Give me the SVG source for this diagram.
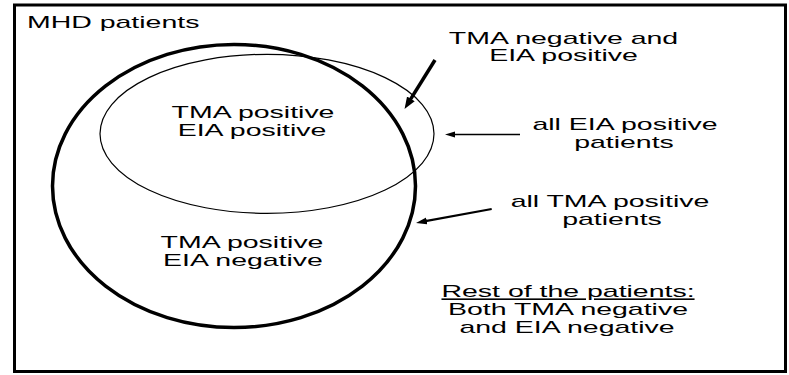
<svg xmlns="http://www.w3.org/2000/svg" width="789" height="375" viewBox="0 0 789 375">
  <style>
    text { font-family: "Liberation Sans", Arial, sans-serif; font-size: 16px; fill: #000; text-anchor: middle; }
    text.start { text-anchor: start; }
    .frame { fill: #fff; stroke: #000; stroke-width: 3; }
    .big { fill: none; stroke: #000; stroke-width: 3.5; }
    .small { fill: none; stroke: #000; stroke-width: 1.2; }
    .arrow { fill: none; stroke: #000; stroke-linecap: butt; }
  </style>
  <defs>
    <marker id="headL" markerUnits="userSpaceOnUse" markerWidth="12" markerHeight="10" refX="6" refY="5" orient="auto">
      <path d="M0,0.5 L12,5 L0,9.5 z" fill="#000"/>
    </marker>
    <marker id="headM" markerUnits="userSpaceOnUse" markerWidth="11" markerHeight="8" refX="5.5" refY="4" orient="auto">
      <path d="M0,0.5 L11,4 L0,7.5 z" fill="#000"/>
    </marker>
    <marker id="headS" markerUnits="userSpaceOnUse" markerWidth="10" markerHeight="7" refX="5" refY="3.5" orient="auto">
      <path d="M0,0.5 L10,3.5 L0,6.5 z" fill="#000"/>
    </marker>
  </defs>

  <rect x="0" y="0" width="789" height="375" fill="#fff"/>

  <g id="mhd-patients">
    <rect class="frame" x="14.5" y="5" width="771" height="366.5"/>
    <text class="start" transform="translate(27,28) scale(1.78,1)">MHD patients</text>
  </g>

  <g id="tma-positive-set">
    <ellipse class="big" cx="234" cy="186" rx="181.5" ry="141.5"/>
  </g>

  <g id="eia-positive-set">
    <ellipse class="small" cx="267" cy="133.8" rx="167" ry="79.5"/>
  </g>

  <g id="tma-pos-eia-pos">
    <text transform="translate(253,118) scale(1.78,1)">TMA positive</text>
    <text transform="translate(252,136) scale(1.78,1)">EIA positive</text>
  </g>

  <g id="tma-pos-eia-neg">
    <text transform="translate(242,248) scale(1.78,1)">TMA positive</text>
    <text transform="translate(243,266) scale(1.78,1)">EIA negative</text>
  </g>

  <g id="label-tma-neg-eia-pos">
    <text transform="translate(563.5,44) scale(1.78,1)">TMA negative and</text>
    <text transform="translate(563.5,61) scale(1.78,1)">EIA positive</text>
  </g>

  <g id="label-all-eia">
    <text transform="translate(625,130) scale(1.78,1)">all EIA positive</text>
    <text transform="translate(624,148) scale(1.78,1)">patients</text>
  </g>

  <g id="label-all-tma">
    <text transform="translate(610,207) scale(1.78,1)">all TMA positive</text>
    <text transform="translate(612,225) scale(1.78,1)">patients</text>
  </g>

  <g id="label-rest">
    <text transform="translate(568,297) scale(1.78,1)" text-decoration="underline">Rest of the patients:</text>
    <text transform="translate(568,315) scale(1.78,1)">Both TMA negative</text>
    <text transform="translate(567,333) scale(1.78,1)">and EIA negative</text>
  </g>

  <g id="connectors">
    <path class="arrow" d="M435,60 L407.7,103.9" stroke-width="3.5" marker-end="url(#headL)"/>
    <path class="arrow" d="M520,134.5 L450,134.5" stroke-width="1.5" marker-end="url(#headS)"/>
    <path class="arrow" d="M491.7,209 L421.4,221.9" stroke-width="2.2" marker-end="url(#headM)"/>
  </g>
</svg>
